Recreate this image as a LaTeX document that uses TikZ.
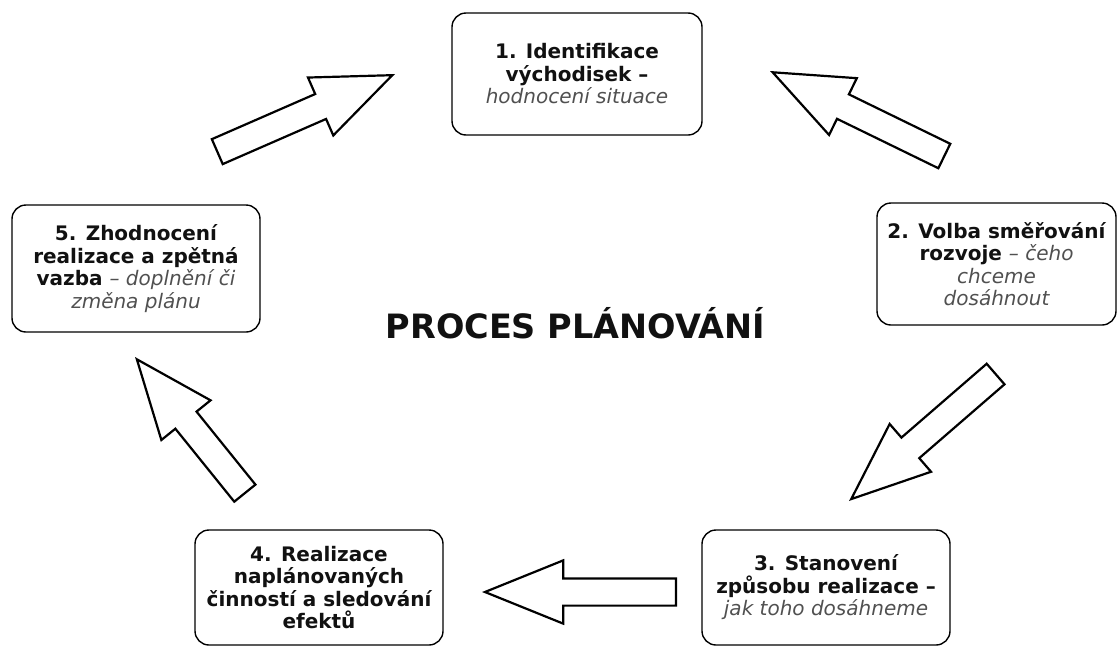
\documentclass[tikz,border=0pt]{standalone}
\usepackage{fontspec}
\setmainfont{DejaVu Sans}
\usetikzlibrary{shapes.arrows}
\definecolor{softgray}{HTML}{505050}
\definecolor{inkblack}{HTML}{111111}
\newcommand{\soft}[1]{{\mdseries\itshape\color{softgray}#1}}
\tikzset{
  stage/.style = {draw, line width=1.4pt, rounded corners=14pt,
                  align=center, inner sep=0pt, text=inkblack,
                  font=\fontsize{20}{22.5}\selectfont\bfseries},
  flow/.style = {single arrow, draw, line width=2.2pt, fill=white,
                 inner sep=12.5pt, minimum height=191pt, anchor=tip,
                 single arrow head extend=18pt,
                 single arrow tip angle=44},
  title/.style = {font=\fontsize{33.5}{36}\selectfont\bfseries, text=inkblack},
}
\begin{document}
\begin{tikzpicture}[x=1pt,y=-1pt]
\useasboundingbox (0,0) rectangle (1118,648);
% stages of the cycle
\node[stage, minimum width=250pt, minimum height=122pt] (ident) at (577,74)
  {1. Identifikace\\východisek –\\\soft{hodnocení situace}};
\node[stage, minimum width=239pt, minimum height=122pt] (volba) at (996.5,264)
  {2. Volba směřování\\rozvoje \soft{– čeho}\\\soft{chceme}\\\soft{dosáhnout}};
\node[stage, minimum width=248pt, minimum height=115pt] (stanov) at (826,587.5)
  {3. Stanovení\\způsobu realizace –\\\soft{jak toho dosáhneme}};
\node[stage, minimum width=248pt, minimum height=115pt] (realiz) at (319,587.5)
  {4. Realizace\\naplánovaných\\činností a sledování\\efektů};
\node[stage, minimum width=248pt, minimum height=127pt] (zhodn) at (136,268.5)
  {5. Zhodnocení\\realizace a zpětná\\vazba \soft{– doplnění či}\\\soft{změna plánu}};
\node[title] (proces) at (575.5,323) {PROCES PLÁNOVÁNÍ};
% arrows between the stages, placed by their tips
\node[flow, rotate=23.6]  (a51) at (395,74) {};
\node[flow, rotate=154]   (a12) at (770,71) {};
\node[flow, rotate=220.9] (a23) at (849,501) {};
\node[flow, rotate=180]   (a34) at (482,592) {};
\node[flow, rotate=128.9, minimum height=172pt] (a45) at (135,357) {};
\end{tikzpicture}
\end{document}
